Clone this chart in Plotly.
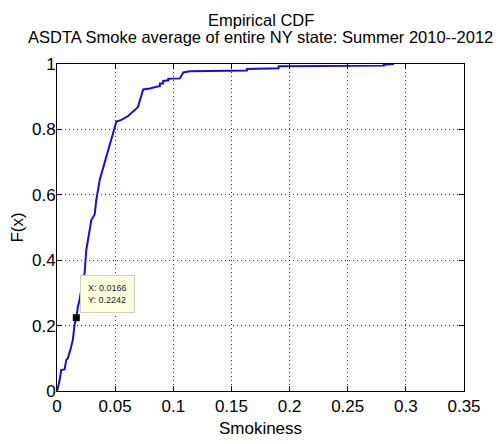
import plotly.graph_objects as go

# Empirical CDF
smokiness = [0, 0.0007, 0.002, 0.0036, 0.0065, 0.008, 0.0093, 0.0114, 0.0136, 0.0151,
             0.0166, 0.018, 0.0194, 0.0217, 0.0237, 0.0252, 0.0274, 0.0295, 0.0324, 0.0338,
             0.0367, 0.0396, 0.0424, 0.0453, 0.0482, 0.0511, 0.0554, 0.0611, 0.0669, 0.0697,
             0.0741, 0.0798, 0.0885, 0.0885, 0.0913, 0.0913, 0.0957, 0.0957, 0.1057, 0.1086,
             0.1144, 0.1633, 0.1633, 0.1906, 0.1906, 0.281, 0.281, 0.2898]
cdf = [0, 0.008, 0.028, 0.064, 0.066, 0.095, 0.1, 0.125, 0.156, 0.202,
       0.2242, 0.258, 0.278, 0.329, 0.36, 0.431, 0.482, 0.523, 0.54, 0.584,
       0.645, 0.681, 0.716, 0.747, 0.788, 0.824, 0.829, 0.841, 0.859, 0.869,
       0.922, 0.925, 0.933, 0.940, 0.940, 0.948, 0.950, 0.955, 0.956, 0.974,
       0.978, 0.980, 0.985, 0.987, 0.993, 0.995, 0.998, 1.0]

tip_x = [0.0166]
tip_y = [0.2242]

x_ticks = [0, 0.05, 0.1, 0.15, 0.2, 0.25, 0.3, 0.35]
x_labels = ["0", "0.05", "0.1", "0.15", "0.2", "0.25", "0.3", "0.35"]
y_ticks = [0, 0.2, 0.4, 0.6, 0.8, 1]
y_labels = ["0", "0.2", "0.4", "0.6", "0.8", "1"]

FONT = "Liberation Sans, Arial, sans-serif"

fig = go.Figure()
fig.add_trace(go.Scatter(x=smokiness, y=cdf, mode="lines",
                         line=dict(color="#1010d8", width=2), showlegend=False))
fig.add_trace(go.Scatter(x=tip_x, y=tip_y, mode="markers",
                         marker=dict(symbol="square", size=7, color="black"),
                         showlegend=False))

fig.add_annotation(x=tip_x[0], y=tip_y[0], xref="x", yref="y",
                   text=f"X: {tip_x[0]:.4f}<br>Y: {tip_y[0]:.4f}",
                   showarrow=False, xanchor="left", yanchor="bottom",
                   xshift=4, yshift=5, align="left",
                   font=dict(family=FONT, size=9, color="#222"),
                   bgcolor="#ffffe1", bordercolor="#d0d0b8", borderwidth=1, borderpad=7)

fig.add_annotation(x=0.5, y=1.1346, xref="paper", yref="paper",
                   text="Empirical CDF", showarrow=False, yanchor="middle",
                   font=dict(family=FONT, size=16.5, color="black"))
fig.add_annotation(x=0.5, y=1.0826, xref="paper", yref="paper",
                   text="ASDTA Smoke average of entire NY state: Summer 2010--2012",
                   showarrow=False, yanchor="middle",
                   font=dict(family=FONT, size=16.5, color="black"))

axis_common = dict(showline=True, linecolor="black", linewidth=1, mirror="ticks",
                   ticks="inside", ticklen=5, tickcolor="black", automargin=False,
                   showgrid=True, gridcolor="#333333", griddash="1px,3px", gridwidth=1,
                   zeroline=False, tickfont=dict(family=FONT, size=17, color="black"))

fig.update_xaxes(range=[0, 0.35], tickvals=x_ticks, ticktext=x_labels,
                 title=dict(text="Smokiness", font=dict(family=FONT, size=17, color="black"),
                            standoff=6), **axis_common)
fig.update_yaxes(range=[0, 1], tickvals=y_ticks, ticktext=y_labels,
                 ticklabelstandoff=-3,
                 title=dict(text="F(x)", font=dict(family=FONT, size=17, color="black"),
                            standoff=4), **axis_common)

fig.update_layout(width=502, height=444, margin=dict(l=57, r=38, t=64, b=53),
                  paper_bgcolor="white", plot_bgcolor="white")

fig.write_html("out.html", config={"displayModeBar": False},
               post_script="document.body.style.margin='0px';")
